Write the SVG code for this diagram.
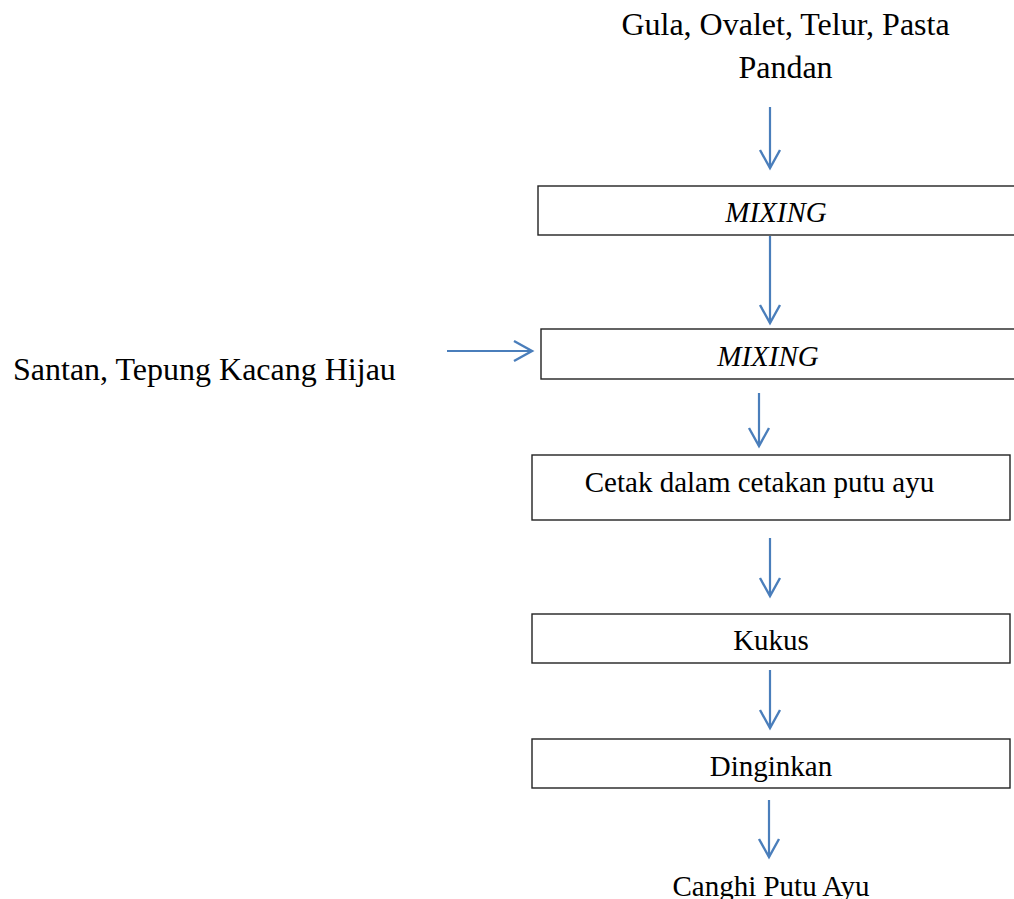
<svg xmlns="http://www.w3.org/2000/svg" width="1014" height="899" viewBox="0 0 1014 899">
<defs>
<style>
.box{fill:#fff;stroke:#222;stroke-width:1.4}
.t{font-family:"Liberation Serif","Times New Roman",serif;fill:#000}
.b{font-size:29px;text-anchor:middle}
.o{font-size:32px}
.i{font-style:italic}
.c{fill:none;stroke:#4a7ebb;stroke-width:2.2}
</style>
<marker id="ah" markerUnits="userSpaceOnUse" markerWidth="26" markerHeight="26" refX="20" refY="11" orient="auto" viewBox="0 0 26 22">
<path d="M2,1 L20,11 L2,21" fill="none" stroke="#4a7ebb" stroke-width="2.4"/>
</marker>
</defs>
<rect width="1014" height="899" fill="#fff"/>
<g id="input-top"><text class="t o" x="785.5" y="35" text-anchor="middle">Gula, Ovalet, Telur, Pasta</text><text class="t o" x="785.5" y="78" text-anchor="middle">Pandan</text></g>
<g id="input-left"><text class="t o" x="13" y="380">Santan, Tepung Kacang Hijau</text></g>
<g id="mixing1"><rect class="box" x="538" y="186" width="490" height="49"/><text class="t b i" x="776" y="222">MIXING</text></g>
<g id="mixing2"><rect class="box" x="541" y="329" width="490" height="50"/><text class="t b i" x="768" y="366">MIXING</text></g>
<g id="cetak"><rect class="box" x="532" y="455" width="478" height="65"/><text class="t b" x="759.5" y="492">Cetak dalam cetakan putu ayu</text></g>
<g id="kukus"><rect class="box" x="532" y="614" width="478" height="49"/><text class="t b" x="771" y="650">Kukus</text></g>
<g id="dinginkan"><rect class="box" x="532" y="739" width="478" height="49"/><text class="t b" x="771" y="776">Dinginkan</text></g>
<g id="output"><text class="t b" x="771" y="896">Canghi Putu Ayu</text></g>
<g id="connectors">
<line class="c" x1="770" y1="107" x2="770" y2="168" marker-end="url(#ah)"/>
<line class="c" x1="770" y1="236" x2="770" y2="323" marker-end="url(#ah)"/>
<line class="c" x1="447" y1="351" x2="532" y2="351" marker-end="url(#ah)"/>
<line class="c" x1="759" y1="393" x2="759" y2="446" marker-end="url(#ah)"/>
<line class="c" x1="770" y1="538" x2="770" y2="596" marker-end="url(#ah)"/>
<line class="c" x1="770" y1="670" x2="770" y2="728" marker-end="url(#ah)"/>
<line class="c" x1="769" y1="800" x2="769" y2="857" marker-end="url(#ah)"/>
</g>
</svg>
